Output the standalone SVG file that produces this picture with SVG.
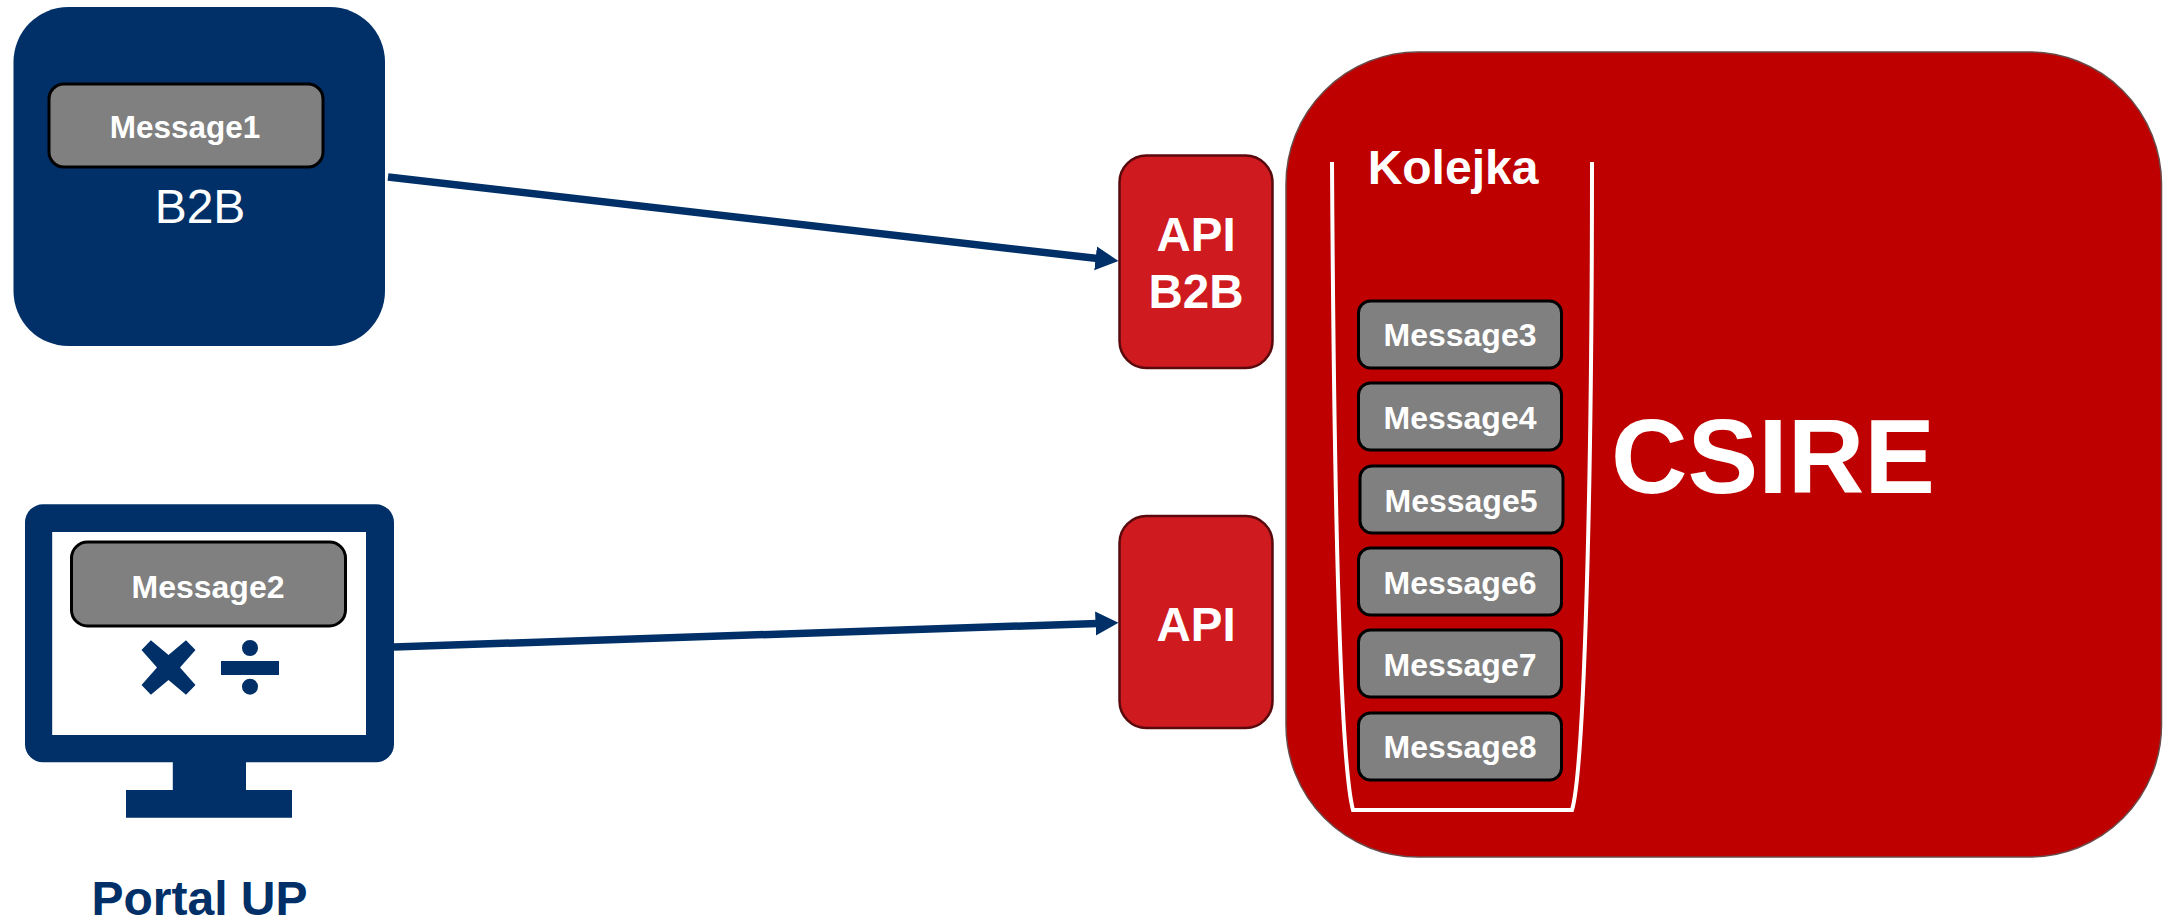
<svg xmlns="http://www.w3.org/2000/svg" width="2168" height="921" viewBox="0 0 2168 921">
  <style>
    text { font-family: "Liberation Sans", Arial, sans-serif; fill: #fff; text-anchor: middle; }
    .b { font-weight: 700; }
    .msg rect { fill: #808080; stroke: #000; stroke-width: 3; }
    .msg text { font-size: 32px; font-weight: 700; }
    .navy { fill: #003067; }
    .api rect { fill: #cf1a20; stroke: #5a0a0c; stroke-width: 2.5; }
    .api text { font-size: 47.500px; font-weight: 700; }
    .conn { stroke: #003067; stroke-width: 7.500; fill: none; marker-end: url(#arrow); }
  </style>
  <defs>
    <marker id="arrow" markerUnits="userSpaceOnUse" markerWidth="24" markerHeight="26" refX="2" refY="12" orient="auto">
      <path d="M0 0 L23 12 L0 24 Z" fill="#003067"/>
    </marker>
  </defs>
  <rect width="2168" height="921" fill="#fff"/>

  <g id="b2b">
    <rect class="navy" x="13.500" y="7" width="371.500" height="339" rx="55" ry="55"/>
    <text x="200" y="223" font-size="48">B2B</text>
  </g>
  <g id="message1" class="msg">
    <rect x="49" y="84" width="274" height="83" rx="15"/>
    <text x="185" y="137.500" style="font-size:31.500px">Message1</text>
  </g>

  <g id="portal-up">
    <path class="navy" fill-rule="evenodd" d="M43 504.300H376a18 18 0 0 1 18 18V744.300a18 18 0 0 1-18 18H246V790H292V817.700H126V790H172.800V762.300H43a18 18 0 0 1-18-18V522.300a18 18 0 0 1 18-18Z M52.200 532V735H366V532Z"/>
    <polygon class="navy" points="150.900,640.300 168.500,655 186,640.300 195.500,650 180,667.500 195.500,685 186,694.700 168.500,680 150.900,694.700 141.500,685 157,667.500 141.500,650"/>
    <rect class="navy" x="221" y="661" width="58" height="14"/>
    <circle class="navy" cx="250" cy="648" r="8"/>
    <circle class="navy" cx="250" cy="686.700" r="8"/>
    <text class="b" x="199.500" y="915" font-size="48" style="fill:#003067">Portal UP</text>
  </g>
  <g id="message2" class="msg">
    <rect x="71.500" y="542" width="274" height="84" rx="16"/>
    <text x="208" y="597.500">Message2</text>
  </g>

  <g id="api-b2b" class="api">
    <rect x="1119.500" y="155.500" width="153" height="212.500" rx="27"/>
    <text x="1196" y="251">API</text>
    <text x="1196" y="308">B2B</text>
  </g>
  <g id="api" class="api">
    <rect x="1119.500" y="516" width="153" height="212" rx="27"/>
    <text x="1196" y="641">API</text>
  </g>

  <g id="csire">
    <rect x="1286" y="52" width="875.500" height="805" rx="132" ry="132" fill="#be0000" stroke="#6a4a4a" stroke-width="1.500"/>
    <text class="b" x="1773" y="492.500" font-size="106">CSIRE</text>
  </g>

  <g id="kolejka">
    <path d="M1332 162 C1334 500 1340 760 1353 810 L1572 810 C1584 770 1592 500 1592 162" fill="none" stroke="#fff" stroke-width="4"/>
    <text class="b" x="1453" y="184" font-size="48">Kolejka</text>
  </g>

  <g id="message3" class="msg"><rect x="1358.500" y="301" width="203" height="67" rx="12"/><text x="1460" y="346">Message3</text></g>
  <g id="message4" class="msg"><rect x="1358.500" y="383" width="203" height="67" rx="12"/><text x="1460" y="429">Message4</text></g>
  <g id="message5" class="msg"><rect x="1360" y="466" width="203" height="67" rx="12"/><text x="1461" y="511.500">Message5</text></g>
  <g id="message6" class="msg"><rect x="1358.500" y="548" width="203" height="67" rx="12"/><text x="1460" y="594">Message6</text></g>
  <g id="message7" class="msg"><rect x="1358.500" y="630" width="203" height="67" rx="12"/><text x="1460" y="676">Message7</text></g>
  <g id="message8" class="msg"><rect x="1358.500" y="713" width="203" height="67" rx="12"/><text x="1460" y="758">Message8</text></g>

  <g id="connectors">
    <line class="conn" x1="388" y1="177" x2="1097.600" y2="258.600"/>
    <line class="conn" x1="394" y1="647" x2="1097.500" y2="623.400"/>
  </g>
</svg>
